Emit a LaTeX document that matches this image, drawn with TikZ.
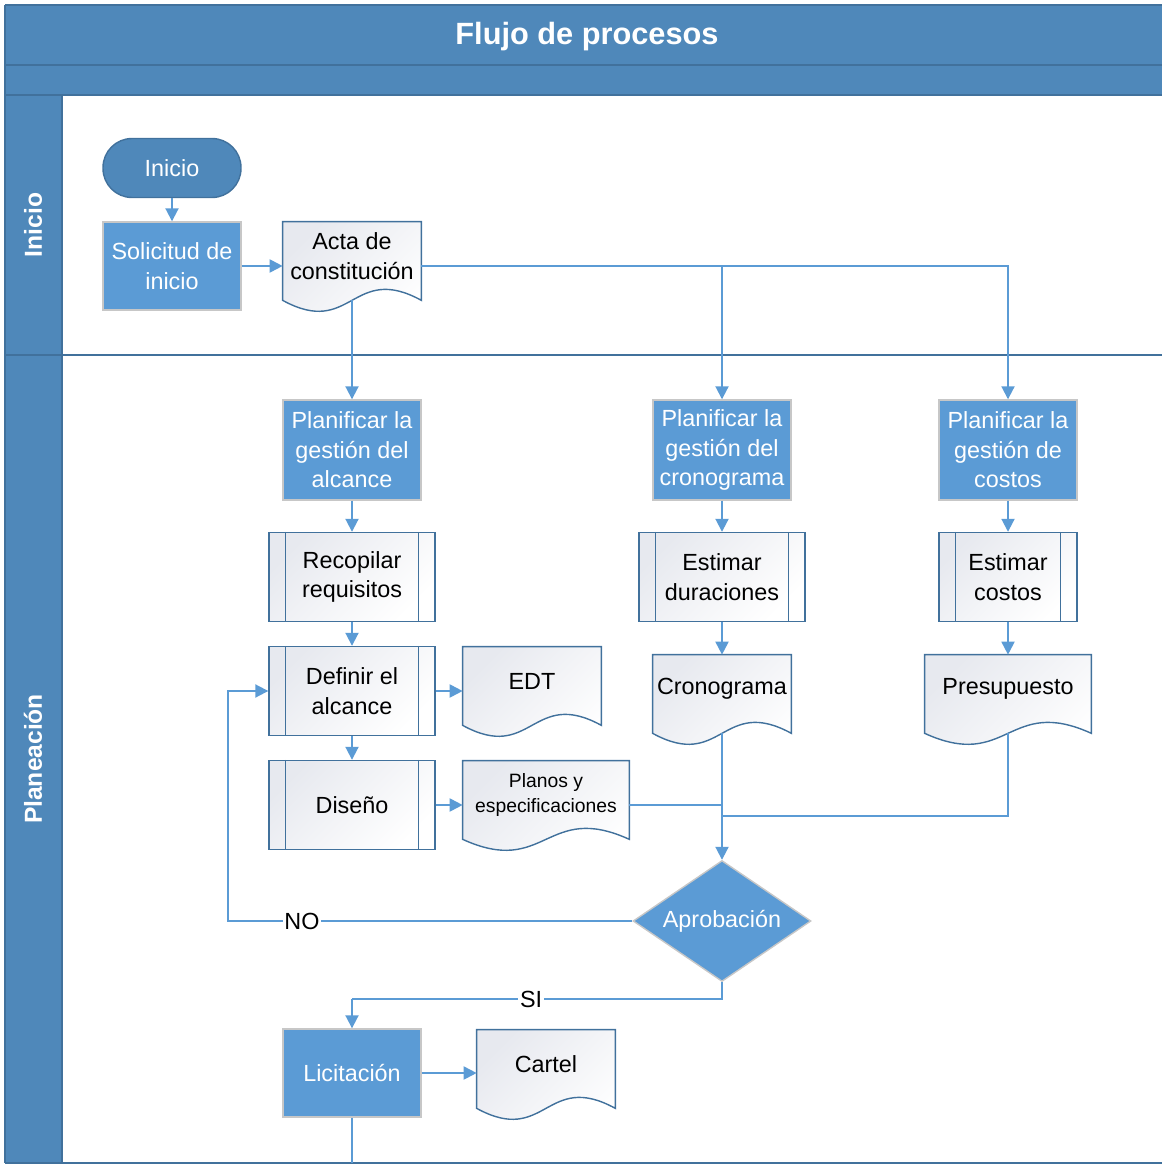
\documentclass[tikz,border=0pt]{standalone}
\usepackage{fontspec}
\setmainfont{Liberation Sans}
\usetikzlibrary{shapes.geometric,arrows.meta,calc,backgrounds}

\definecolor{lanehead}{RGB}{79,136,186}
\definecolor{laneedge}{RGB}{65,113,156}
\definecolor{procfill}{RGB}{91,155,213}
\definecolor{flowline}{RGB}{91,155,213}
\definecolor{docedge}{RGB}{65,113,156}
\definecolor{docshade}{RGB}{231,233,239}

\begin{document}
\begin{tikzpicture}[
    x=0.02cm, y=-0.02cm,
    txt/.style={font=\fontsize{13.3}{16.8}\selectfont, align=center},
    proc/.style={txt, rectangle, draw=black!22, line width=0.8pt, fill=procfill, text=white, minimum width=2.76cm, minimum height=1.76cm, inner sep=0pt},
    term/.style={txt, rectangle, rounded corners=0.58cm, draw=laneedge, line width=0.8pt, fill=lanehead, text=white, minimum width=2.76cm, minimum height=1.18cm},
    subproc/.style={txt, rectangle, draw=docedge, line width=0.8pt, top color=docshade, bottom color=white, shading angle=45, minimum width=3.32cm, minimum height=1.78cm, inner sep=0pt},
    doc/.style={txt, minimum width=2.76cm, minimum height=1.36cm, inner sep=0pt},
    docbody/.style={draw=docedge, line width=0.8pt, top color=docshade, bottom color=white, shading angle=45},
    decision/.style={txt, diamond, aspect=1.47, draw=black!22, line width=0.8pt, fill=procfill, text=white, minimum width=3.56cm, minimum height=2.42cm, inner sep=0pt},
    lanelbl/.style={font=\fontsize{14}{16}\selectfont\bfseries, text=white, rotate=90},
    lbl/.style={txt, fill=white, inner sep=1pt},
    flow/.style={draw=flowline, line width=1.1pt, -{Triangle[length=0.26cm, width=0.26cm]}},
    link/.style={draw=flowline, line width=1.1pt},
]
\useasboundingbox (0,0) rectangle (1162,1165);

% pool header and lanes
\fill[lanehead] (5,5) rectangle (1162,95);
\fill[lanehead] (5,95) rectangle (62,1163);
\draw[laneedge, line width=0.8pt] (5,5) -- (1162,5) (5,65) -- (1162,65) (5,95) -- (1162,95)
    (5,5) -- (5,1163) (62,95) -- (62,1163) (5,355) -- (1162,355) (5,1163) -- (1162,1163);
\node[font=\fontsize{17.5}{20}\selectfont\bfseries, text=white] (title) at (587,37) {Flujo de procesos};
\node[lanelbl] (lanein) at (33,225) {Inicio};
\node[lanelbl] (laneplan) at (33,759) {Planeación};

% Inicio
\node[term] (inicio) at (172,168) {Inicio};
\node[proc] (solicitud) at (172,266) {Solicitud de\\inicio};
\node[doc] (acta) at (352,256) {Acta de\\constitución};

% Planeacion
\node[proc, minimum height=2cm] (planalc) at (352,450) {Planificar la\\gestión del\\alcance};
\node[proc, minimum height=2cm] (plancron) at (722,450) {Planificar la\\gestión del\\cronograma};
\node[proc, minimum height=2cm] (plancost) at (1008,450) {Planificar la\\gestión de\\costos};

\node[subproc] (recopilar) at (352,577) {Recopilar\\requisitos};
\node[subproc] (estdur) at (722,577) {Estimar\\duraciones};
\node[subproc, minimum width=2.76cm] (estcost) at (1008,577) {Estimar\\costos};

\node[subproc] (definir) at (352,691) {Definir el\\alcance};
\node[doc] (edt) at (532,681) {EDT};
\node[doc] (crono) at (722,689) {Cronograma};
\node[doc, minimum width=3.32cm] (presu) at (1008,689) {Presupuesto};

\node[subproc] (diseno) at (352,805) {Diseño};
\node[doc, minimum width=3.32cm, font=\fontsize{11}{14}\selectfont] (planos) at (546,795) {Planos y\\especificaciones};

\node[decision] (aprob) at (722,921) {Aprobación};

\node[proc] (licit) at (352,1073) {Licitación};
\node[doc] (cartel) at (546,1064) {Cartel};

\coordinate (noturn) at (228,921);
\coordinate (siturn) at (352,999);
\coordinate (merge) at (722,816);
\coordinate (laneend) at (352,1163);

% document outlines with wavy bottom
\begin{scope}[on background layer]
\foreach \d in {acta,edt,planos,crono,presu,cartel}
  \draw[docbody] (\d.north west) -- (\d.north east) -- ($(\d.south east)+(0,10)$)
    .. controls ($(\d.south)+(0,-28)$) and ($(\d.south)+(0,48)$) .. ($(\d.south west)+(0,10)$) -- cycle;
\end{scope}

% side bars of the subprocess boxes
\foreach \p in {recopilar,estdur,estcost,definir,diseno}
  \draw[docedge, line width=0.8pt] ($(\p.north west)+(17,0)$) -- ($(\p.south west)+(17,0)$)
    ($(\p.north east)+(-17,0)$) -- ($(\p.south east)+(-17,0)$);

% connectors
\draw[flow] (inicio) -- (solicitud);
\draw[flow] (solicitud.east) -- (solicitud.east -| acta.west);
\draw[flow] (solicitud.east -| acta.east) -| (plancron.north);
\draw[flow] (solicitud.east -| acta.east) -| (plancost.north);
\draw[flow] ($(acta.south)+(0,10)$) -- (planalc.north);

\draw[flow] (planalc) -- (recopilar);
\draw[flow] (recopilar) -- (definir);
\draw[flow] (definir) -- (diseno);
\draw[flow] (plancron) -- (estdur);
\draw[flow] (estdur) -- (crono.north);
\draw[flow] (plancost) -- (estcost);
\draw[flow] (estcost) -- (presu.north);

\draw[flow] (definir.east) -- (definir.east -| edt.west);
\draw[flow] (diseno.east) -- (diseno.east -| planos.west);
\draw[link] (diseno.east -| planos.east) -- (diseno.east -| aprob);
\draw[link] ($(presu.south)+(0,10)$) |- (merge);
\draw[flow] ($(crono.south)+(0,10)$) -- (aprob.north);

\draw[flow] (aprob.west) -- node[lbl, pos=0.817] {NO} (noturn) |- (definir.west);
\draw[link] (aprob.south) |- node[lbl, pos=0.758] {SI} (siturn);
\draw[flow] (siturn) -- (licit.north);

\draw[flow] (licit.east) -- (licit.east -| cartel.west);
\draw[link] (licit.south) -- (laneend);
\end{tikzpicture}
\end{document}
